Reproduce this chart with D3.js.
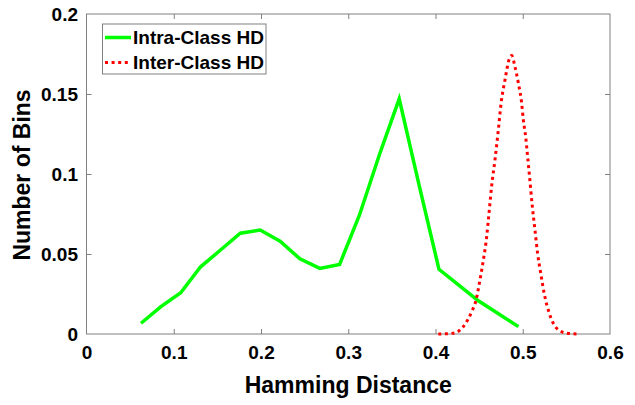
<!DOCTYPE html>
<html>
<head>
<meta charset="utf-8">
<script src="https://cdn.jsdelivr.net/npm/d3@7"></script>
<style>
  html, body { margin: 0; padding: 0; background: #fff; }
  svg { display: block; font-family: "Liberation Sans", Arial, sans-serif; font-weight: bold; }
</style>
</head>
<body>
<svg id="chart" width="635" height="405"></svg>
<script>
// Intra-class Hamming distance distribution (histogram bin centres)
const intraHD = [0.0625, 0.0853, 0.108, 0.1308, 0.1536, 0.1763, 0.1991, 0.2219, 0.2446, 0.2674,
                 0.2901, 0.3129, 0.3357, 0.3584, 0.3812, 0.404, 0.4267, 0.4495, 0.4722, 0.495];
const intraVal = [0.0067, 0.0171, 0.0258, 0.042, 0.0525, 0.063, 0.065, 0.058, 0.047, 0.041,
                  0.0435, 0.0744, 0.112, 0.147, 0.093, 0.0404, 0.0305, 0.0206, 0.0126, 0.0046];

// Inter-class Hamming distance distribution
const interHD = [0.4032, 0.4204, 0.4319, 0.4415, 0.4464, 0.451, 0.4548, 0.4587, 0.4613, 0.4644,
                 0.4682, 0.472, 0.4751, 0.4797, 0.4846, 0.4873, 0.4911, 0.4949, 0.4988, 0.5006,
                 0.5034, 0.5052, 0.5075, 0.511, 0.514, 0.5171, 0.5206, 0.5247, 0.5304, 0.5389,
                 0.5504, 0.5637];
const interVal = [0, 0.0005, 0.0046, 0.014, 0.021, 0.034, 0.046, 0.061, 0.0754, 0.0927,
                  0.109, 0.1275, 0.144, 0.159, 0.172, 0.174, 0.167, 0.157, 0.144, 0.134,
                  0.123, 0.113, 0.100, 0.0796, 0.065, 0.050, 0.038, 0.025, 0.013, 0.0036,
                  0.0005, 0];

const xTicks = [0, 0.1, 0.2, 0.3, 0.4, 0.5, 0.6];
const yTicks = [0, 0.05, 0.1, 0.15, 0.2];
const seriesNames = ["Intra-Class HD", "Inter-Class HD"];

const svg = d3.select("#chart");
const plotLeft = 86.5, plotRight = 610, plotTop = 14, plotBottom = 334;

const x = d3.scaleLinear().domain([0, 0.6]).range([plotLeft, plotRight]);
const y = d3.scaleLinear().domain([0, 0.2]).range([plotBottom, plotTop]);

const axisColor = "#808080";
const tickLen = 5;

// Axes (ticks pointing inward, mirrored on top and right)
const gx = svg.append("g").attr("transform", `translate(0,${plotBottom})`)
  .call(d3.axisBottom(x).tickValues(xTicks).tickSizeInner(-tickLen).tickSizeOuter(0)
        .tickFormat(d3.format("~g")).tickPadding(12));
const gxTop = svg.append("g").attr("transform", `translate(0,${plotTop})`)
  .call(d3.axisTop(x).tickValues(xTicks).tickSizeInner(-tickLen).tickSizeOuter(0).tickFormat(""));
const gy = svg.append("g").attr("transform", `translate(${plotLeft},0)`)
  .call(d3.axisLeft(y).tickValues(yTicks).tickSizeInner(-tickLen).tickSizeOuter(0)
        .tickFormat(d3.format("~g")).tickPadding(8.5));
const gyRight = svg.append("g").attr("transform", `translate(${plotRight},0)`)
  .call(d3.axisRight(y).tickValues(yTicks).tickSizeInner(-tickLen).tickSizeOuter(0).tickFormat(""));

[gx, gxTop, gy, gyRight].forEach(g => {
  g.select(".domain").remove();
  g.selectAll(".tick line").attr("stroke", axisColor);
  g.selectAll(".tick text").attr("fill", "#000").attr("font-size", 19).attr("font-weight", "bold")
    .attr("font-family", "'Liberation Sans', Arial, sans-serif");
});
// Ticks that sit on the box edges are not needed
gx.selectAll(".tick").filter(d => d === 0 || d === 0.6).select("line").remove();
gxTop.selectAll(".tick").filter(d => d === 0 || d === 0.6).select("line").remove();
gy.selectAll(".tick").filter(d => d === 0 || d === 0.2).select("line").remove();
gyRight.selectAll(".tick").filter(d => d === 0 || d === 0.2).select("line").remove();

// Box
svg.append("rect")
  .attr("x", plotLeft).attr("y", plotTop)
  .attr("width", plotRight - plotLeft).attr("height", plotBottom - plotTop)
  .attr("fill", "none").attr("stroke", axisColor).attr("stroke-width", 1);

const line = d3.line().x(d => x(d[0])).y(d => y(d[1]));

// Intra-class curve
svg.append("path")
  .datum(intraHD.map((h, i) => [h, intraVal[i]]))
  .attr("d", line)
  .attr("fill", "none").attr("stroke", "#00ff00").attr("stroke-width", 3.5)
  .attr("stroke-linejoin", "miter");

// Inter-class curve
svg.append("path")
  .datum(interHD.map((h, i) => [h, interVal[i]]))
  .attr("d", line.curve(d3.curveMonotoneX))
  .attr("fill", "none").attr("stroke", "#ff0000").attr("stroke-width", 3)
  .attr("stroke-dasharray", "3,3.6");

// Axis titles
svg.append("text")
  .attr("x", (plotLeft + plotRight) / 2).attr("y", 393)
  .attr("text-anchor", "middle").attr("font-size", 23).attr("fill", "#000")
  .text("Hamming Distance");
svg.append("text")
  .attr("transform", `translate(29.5,${(plotTop + plotBottom) / 2 + 1}) rotate(-90)`)
  .attr("text-anchor", "middle").attr("font-size", 23).attr("fill", "#000")
  .text("Number of Bins");

// Legend
const legend = svg.append("g");
legend.append("rect")
  .attr("x", 102.5).attr("y", 24).attr("width", 163.5).attr("height", 50)
  .attr("fill", "#fff").attr("stroke", "#808080").attr("stroke-width", 1);
const legendStyles = [
  { color: "#00ff00", width: 3.5, dash: null },
  { color: "#ff0000", width: 3, dash: "3,3.6" }
];
seriesNames.forEach((name, i) => {
  const cy = 37.5 + i * 25;
  legend.append("line")
    .attr("x1", 105).attr("x2", 131).attr("y1", cy).attr("y2", cy)
    .attr("stroke", legendStyles[i].color).attr("stroke-width", legendStyles[i].width)
    .attr("stroke-dasharray", legendStyles[i].dash);
  legend.append("text")
    .attr("x", 133).attr("y", cy).attr("dy", "0.36em")
    .attr("font-size", 19).attr("fill", "#000")
    .text(name);
});
</script>
</body>
</html>
